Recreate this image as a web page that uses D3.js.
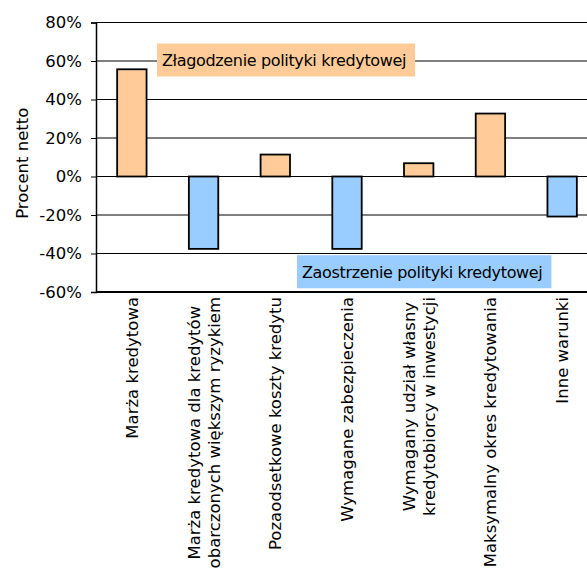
<!DOCTYPE html>
<html>
<head>
<meta charset="utf-8">
<script src="https://cdn.jsdelivr.net/npm/d3@7"></script>
<style>
  html, body { margin: 0; padding: 0; background: #fff; }
  svg { display: block; font-family: "DejaVu Sans", Verdana, sans-serif; }
</style>
</head>
<body>
<svg id="chart" width="587" height="570"></svg>
<script>
// Net percentage of banks reporting a change in credit terms
const categories = [
  ["Marża kredytowa"],
  ["Marża kredytowa dla kredytów", "obarczonych większym ryzykiem"],
  ["Pozaodsetkowe koszty kredytu"],
  ["Wymagane zabezpieczenia"],
  ["Wymagany udział własny", "kredytobiorcy w inwestycji"],
  ["Maksymalny okres kredytowania"],
  ["Inne warunki"]
];
const values = [55.7, -37.6, 11.4, -37.6, 6.9, 32.7, -20.8];
const yTicks = [-60, -40, -20, 0, 20, 40, 60, 80];
const yTitle = "Procent netto";
const easingLabel = "Złagodzenie polityki kredytowej";
const tighteningLabel = "Zaostrzenie polityki kredytowej";

const svg = d3.select("#chart");
const plot = { left: 96, right: 598, top: 22.5, bottom: 292 };

const y = d3.scaleLinear().domain([-60, 80]).range([plot.bottom, plot.top]);
const x = d3.scaleBand()
  .domain(d3.range(categories.length))
  .range([plot.left, plot.right])
  .paddingInner(0.59)
  .paddingOuter(0.295);

// horizontal gridlines
svg.append("g")
  .selectAll("line")
  .data(yTicks)
  .join("line")
  .attr("x1", plot.left).attr("x2", plot.right)
  .attr("y1", d => y(d)).attr("y2", d => y(d))
  .attr("stroke", "#000").attr("stroke-width", 1);

// left axis with outward ticks
const yAxis = d3.axisLeft(y)
  .tickValues(yTicks)
  .tickFormat(d => d + "%")
  .tickSize(5)
  .tickPadding(9);
const gy = svg.append("g").attr("transform", `translate(${plot.left},0)`).call(yAxis);
gy.select(".domain").attr("stroke", "#000").attr("stroke-width", 1.5);
gy.selectAll(".tick line").attr("stroke", "#000");
gy.selectAll(".tick text")
  .attr("font-family", "DejaVu Sans, Verdana, sans-serif")
  .attr("font-size", "16.5px")
  .attr("fill", "#000");

// bottom axis line
svg.append("line")
  .attr("x1", plot.left).attr("x2", plot.right)
  .attr("y1", y(-60)).attr("y2", y(-60))
  .attr("stroke", "#000").attr("stroke-width", 2);

// bars
svg.append("g")
  .selectAll("rect")
  .data(values)
  .join("rect")
  .attr("x", (d, i) => x(i))
  .attr("width", x.bandwidth())
  .attr("y", d => y(Math.max(0, d)))
  .attr("height", d => Math.abs(y(d) - y(0)))
  .attr("fill", d => d >= 0 ? "#FFCC99" : "#99CCFF")
  .attr("stroke", "#000")
  .attr("stroke-width", 1.8);

// y axis title
svg.append("text")
  .attr("transform", `translate(28,${(y(80) + y(-60)) / 2 + 6}) rotate(-90)`)
  .attr("text-anchor", "middle")
  .attr("font-size", "16.5px")
  .attr("fill", "#000")
  .text(yTitle);

// category labels, rotated, lines centred on each other and anchored under the axis
const labelTop = 297;
const lineGap = 20;
const labelG = svg.append("g");
categories.forEach((lines, i) => {
  const cx = x(i) + x.bandwidth() / 2;
  const g = labelG.append("g");
  const texts = lines.map((line, k) => {
    const off = (k - (lines.length - 1) / 2) * lineGap + 6;
    return g.append("text")
      .attr("font-size", "16.5px")
      .attr("fill", "#000")
      .attr("text-anchor", "middle")
      .attr("data-off", off)
      .text(line);
  });
  const maxLen = d3.max(texts, t => t.node().getComputedTextLength());
  texts.forEach(t => {
    const off = +t.attr("data-off");
    t.attr("transform", `translate(${cx + off},${labelTop + maxLen / 2}) rotate(-90)`);
  });
});

// annotation boxes
function annotate(label, x0, yc, fill) {
  const g = svg.append("g");
  const rect = g.append("rect").attr("fill", fill);
  const t = g.append("text")
    .attr("x", x0 + 5)
    .attr("y", yc + 6)
    .attr("font-size", "16px")
    .attr("letter-spacing", "-0.35px")
    .attr("fill", "#000")
    .text(label);
  const w = t.node().getComputedTextLength();
  rect.attr("x", x0).attr("y", yc - 16.5).attr("width", w + 14).attr("height", 33);
}
annotate(easingLabel, 157, y(60) - 1, "#FFCC99");
annotate(tighteningLabel, 297, y(-50) - 1, "#99CCFF");
</script>
</body>
</html>
